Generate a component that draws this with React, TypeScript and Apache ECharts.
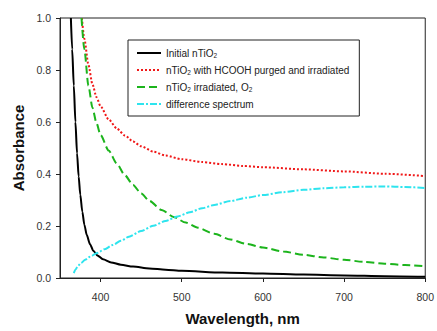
import React, { useEffect, useRef } from "react";
import * as echarts from "echarts";

const xTickValues = [400, 500, 600, 700, 800];

const initialWl = [363.4, 365, 367, 369, 371, 373, 375, 377.5, 380, 383, 387, 391, 396, 403, 413, 425, 440, 460, 480, 500, 550, 600, 650, 700, 750, 800];
const initialAbs = [1.0, 0.88, 0.74, 0.6, 0.48, 0.39, 0.32, 0.255, 0.205, 0.165, 0.13, 0.105, 0.087, 0.072, 0.06, 0.051, 0.044, 0.037, 0.032, 0.028, 0.021, 0.017, 0.013, 0.01, 0.007, 0.005];

const hcoohWl = [377, 380, 385, 390, 395, 400, 410, 420, 430, 440, 450, 465, 480, 500, 525, 550, 575, 600, 650, 700, 750, 800];
const hcoohAbs = [1.0, 0.92, 0.82, 0.745, 0.695, 0.66, 0.61, 0.575, 0.548, 0.525, 0.507, 0.486, 0.471, 0.457, 0.446, 0.438, 0.431, 0.426, 0.418, 0.41, 0.401, 0.392];

const o2Wl = [376.5, 380, 385, 390, 395, 400, 410, 420, 430, 440, 450, 460, 475, 490, 505, 520, 540, 560, 580, 600, 625, 650, 675, 700, 725, 750, 775, 800];
const o2Abs = [1.0, 0.88, 0.74, 0.655, 0.595, 0.55, 0.49, 0.44, 0.395, 0.358, 0.325, 0.297, 0.262, 0.235, 0.213, 0.193, 0.17, 0.148, 0.131, 0.117, 0.102, 0.089, 0.079, 0.07, 0.062, 0.055, 0.05, 0.045];

const diffWl = [367, 369, 372, 376, 381, 387, 395, 405, 415, 425, 435, 450, 465, 480, 495, 510, 525, 540, 560, 580, 600, 625, 650, 675, 700, 725, 750, 775, 800];
const diffAbs = [0.019, 0.032, 0.046, 0.058, 0.07, 0.082, 0.095, 0.111, 0.127, 0.143, 0.159, 0.181, 0.201, 0.219, 0.237, 0.253, 0.268, 0.281, 0.296, 0.309, 0.319, 0.33, 0.339, 0.345, 0.349, 0.351, 0.352, 0.35, 0.346];

const seriesNames = [
  "Initial nTiO2",
  "nTiO2 with HCOOH purged and irradiated",
  "nTiO2 irradiated, O2",
  "difference spectrum",
];

const pairs = (xs: number[], ys: number[]) => xs.map((x, i) => [x, ys[i]]);

export default function App() {
  const ref = useRef<HTMLDivElement>(null);
  useEffect(() => {
    if (!ref.current) return;
    const chart = echarts.init(ref.current, undefined, { renderer: "svg" });
    const font = "Arial, 'Liberation Sans', sans-serif";
    const axisColor = "#222";
    const lineBase = { showSymbol: false, symbol: "none", smooth: 0.25, smoothMonotone: "x" as const, type: "line" as const };
    chart.setOption({
      animation: false,
      backgroundColor: "#fff",
      grid: { left: 60, right: 9, top: 18, bottom: 51, show: true, borderColor: axisColor, borderWidth: 1 },
      legend: {
        orient: "vertical",
        left: 128,
        top: 40,
        padding: [8, 10, 7, 8],
        itemWidth: 24,
        itemHeight: 10,
        itemGap: 6.5,
        backgroundColor: "#fff",
        borderColor: "#222",
        borderWidth: 1,
        itemStyle: { opacity: 0 },
        data: seriesNames,
        formatter: (name: string) =>
          name.replace(/TiO2/g, "TiO{sub|2}").replace(/, O2/, ", O{sub|2}"),
        textStyle: {
          fontFamily: font,
          fontSize: 10,
          color: "#222",
          rich: {
            sub: { fontFamily: font, fontSize: 6.5, color: "#222", verticalAlign: "bottom", padding: [4, 0, 0, 0] },
          },
        },
      },
      xAxis: {
        type: "value",
        min: 350,
        max: 800,
        name: "Wavelength, nm",
        nameLocation: "middle",
        nameGap: 33,
        nameTextStyle: { fontFamily: font, fontSize: 15, fontWeight: "bold", color: "#111" },
        axisLine: { show: true, lineStyle: { color: axisColor, width: 1 } },
        axisTick: { show: true, inside: false, length: 4, customValues: xTickValues, lineStyle: { color: axisColor } },
        axisLabel: { customValues: xTickValues, margin: 13, fontFamily: font, fontSize: 10.5, color: "#333" },
        splitLine: { show: false },
      },
      yAxis: {
        type: "value",
        min: 0,
        max: 1,
        interval: 0.2,
        name: "Absorbance",
        nameLocation: "middle",
        nameGap: 32,
        nameTextStyle: { fontFamily: font, fontSize: 15, fontWeight: "bold", color: "#111" },
        axisLine: { show: true, lineStyle: { color: axisColor, width: 1 } },
        axisTick: { show: true, inside: false, length: 4, lineStyle: { color: axisColor } },
        axisLabel: { margin: 9, fontFamily: font, fontSize: 10.5, color: "#333", formatter: (v: number) => v.toFixed(1) },
        splitLine: { show: false },
      },
      series: [
        { ...lineBase, name: seriesNames[0], data: pairs(initialWl, initialAbs), color: "#000", lineStyle: { color: "#000", width: 2 } },
        { ...lineBase, name: seriesNames[1], data: pairs(hcoohWl, hcoohAbs), color: "#f01818", lineStyle: { color: "#f01818", width: 2, type: [2, 2] } },
        { ...lineBase, name: seriesNames[2], data: pairs(o2Wl, o2Abs), color: "#1cb41c", lineStyle: { color: "#1cb41c", width: 2, type: [8, 4] } },
        { ...lineBase, name: seriesNames[3], data: pairs(diffWl, diffAbs), color: "#2ee4ee", lineStyle: { color: "#2ee4ee", width: 2, type: [7, 2, 2, 2] } },
      ],
    });
    return () => chart.dispose();
  }, []);
  return <div ref={ref} style={{ position: "fixed", left: 0, top: 0, width: 437, height: 331 }} />;
}
